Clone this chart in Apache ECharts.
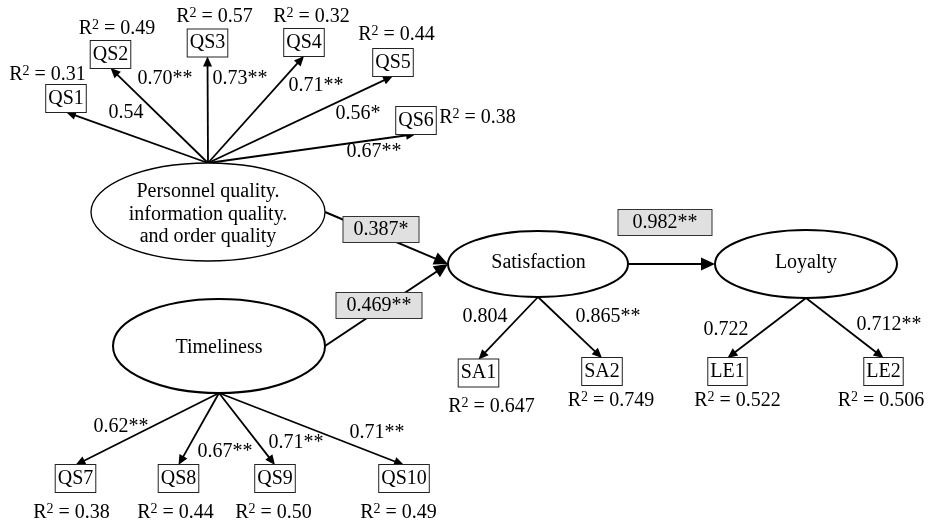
<!DOCTYPE html>
<html>
<head>
<meta charset="utf-8">
<script src="https://cdn.jsdelivr.net/npm/echarts@6/dist/echarts.min.js"></script>
<style>html,body{margin:0;padding:0;background:#fff}#c{width:933px;height:525px}</style>
</head>
<body>
<div id="c"></div>
<script>
// ---------- model content ----------
const latentNames = ['Personnel quality.\ninformation quality.\nand order quality', 'Timeliness', 'Satisfaction', 'Loyalty'];
const indicatorNames = ['QS1','QS2','QS3','QS4','QS5','QS6','QS7','QS8','QS9','QS10','SA1','SA2','LE1','LE2'];
const indicatorR2 = ['0.31','0.49','0.57','0.32','0.44','0.38','0.38','0.44','0.50','0.49','0.647','0.749','0.522','0.506'];
const loadingSource = [0,0,0,0,0,0,1,1,1,1,2,2,3,3];
const loadingValues = ['0.54','0.70**','0.73**','0.71**','0.56*','0.67**','0.62**','0.67**','0.71**','0.71**','0.804','0.865**','0.722','0.712**'];
const pathFrom = [0,1,2];
const pathTo = [2,2,3];
const pathValues = ['0.387*','0.469**','0.982**'];

// ---------- diagram layout (diagram units) ----------
const latentLayout = [[208,212,117,49],[219,346,106,47],[538,264,90,33],[806,264,91,34]];
const latentTextPos = [[208,214.5],[219,348],[538.5,263],[806,263]];
const indicatorLayout = [[66,98.5],[110.5,54.5],[207.5,43],[304,42.5],[393,62.5],[416,120.5],
  [75.5,478.5],[178.5,478.5],[275,478.5],[404,478.5],[478.5,373],[602,371.5],[727.5,371.5],[883.5,371.5]];
const r2Layout = [[47.5,75],[117,29],[214.5,17],[311.5,17],[396.5,35],[477.5,118],
  [71.5,513],[175.5,513],[273.5,513],[398.5,513],[491.5,407],[611,401],[737.5,401],[881,401]];
const loadingLabelLayout = [[126,113],[165,79],[240,79],[316,86],[358,114],[374,152],
  [121,427],[225,452],[296,443],[377,433],[485,317],[608,317],[726,330],[889,325]];
const pathLabelLayout = [[381,229.5],[379,305.5],[665,222.5]];

const FONT = "'Liberation Serif','Times New Roman',Times,serif";
const BOX_HALF_H = 13.5;

function arrow(p0, p1, len, hw, lw) {
  const dx = p1[0] - p0[0], dy = p1[1] - p0[1];
  const L = Math.hypot(dx, dy), ux = dx / L, uy = dy / L;
  const bx = p1[0] - ux * len, by = p1[1] - uy * len;
  return {
    type: 'group', children: [
      { type: 'line', shape: { x1: p0[0], y1: p0[1], x2: bx + ux, y2: by + uy }, style: { stroke: '#000', lineWidth: lw } },
      { type: 'polygon', shape: { points: [[p1[0], p1[1]], [bx - uy * hw, by + ux * hw], [bx + uy * hw, by - ux * hw]] }, style: { fill: '#000' } }
    ]
  };
}

const chart = echarts.init(document.getElementById('c'));

const series = [];

// loading edges
series.push({
  type: 'custom', coordinateSystem: 'cartesian2d', silent: true, z: 1,
  data: loadingSource.map((s, i) => [indicatorLayout[i][0], indicatorLayout[i][1]]),
  renderItem: function (params, api) {
    const i = params.dataIndex;
    const L = latentLayout[loadingSource[i]];
    const ind = indicatorLayout[i];
    let src, tgt;
    if (ind[1] < L[1]) { src = [L[0], L[1] - L[3]]; tgt = [ind[0], ind[1] + BOX_HALF_H]; }
    else { src = [L[0], L[1] + L[3]]; tgt = [ind[0], ind[1] - BOX_HALF_H]; }
    return arrow(api.coord(src), api.coord(tgt), 10, 4.5, 1.8);
  }
});

// structural paths
series.push({
  type: 'custom', coordinateSystem: 'cartesian2d', silent: true, z: 2,
  data: pathFrom.map((f, i) => [latentLayout[f][0], latentLayout[f][1]]),
  renderItem: function (params, api) {
    const i = params.dataIndex;
    const a = latentLayout[pathFrom[i]], b = latentLayout[pathTo[i]];
    return arrow(api.coord([a[0] + a[2], a[1]]), api.coord([b[0] - b[2], b[1]]), 14, 6.5, 2);
  }
});

// latent ellipses
series.push({
  type: 'custom', coordinateSystem: 'cartesian2d', silent: true, z: 3,
  data: latentLayout.map(l => [l[0], l[1]]),
  renderItem: function (params, api) {
    const i = params.dataIndex;
    const l = latentLayout[i];
    const c = api.coord([l[0], l[1]]);
    const s = api.size([l[2], l[3]]);
    const t = api.coord(latentTextPos[i]);
    return {
      type: 'group', children: [
        { type: 'ellipse', shape: { cx: c[0], cy: c[1], rx: s[0], ry: s[1] }, style: { fill: '#fff', stroke: '#000', lineWidth: i === 0 ? 1.3 : 2 } },
        { type: 'text', x: t[0], y: t[1], style: { text: latentNames[i], fontFamily: FONT, fontSize: 20, lineHeight: 22.5, fill: '#000', align: 'center', verticalAlign: 'middle' } }
      ]
    };
  }
});

// indicator boxes
series.push({
  type: 'custom', coordinateSystem: 'cartesian2d', silent: true, z: 4,
  data: indicatorLayout.map(p => [p[0], p[1]]),
  renderItem: function (params, api) {
    const i = params.dataIndex;
    const c = api.coord(indicatorLayout[i]);
    return {
      type: 'text', x: c[0], y: c[1],
      style: { text: indicatorNames[i], fontFamily: FONT, fontSize: 20, lineHeight: 23, fill: '#000', align: 'center', verticalAlign: 'middle',
        backgroundColor: '#fff', borderColor: '#222', borderWidth: 1, padding: [2, 2, 2, 2] }
    };
  }
});

// R2 labels
series.push({
  type: 'custom', coordinateSystem: 'cartesian2d', silent: true, z: 4,
  data: r2Layout.map(p => [p[0], p[1]]),
  renderItem: function (params, api) {
    const i = params.dataIndex;
    const c = api.coord(r2Layout[i]);
    return {
      type: 'text', x: c[0], y: c[1],
      style: { text: '{a|R}{b|2}{a| = ' + indicatorR2[i] + '}', align: 'center', verticalAlign: 'middle',
        rich: {
          a: { fontFamily: FONT, fontSize: 20, lineHeight: 22, fill: '#000' },
          b: { fontFamily: FONT, fontSize: 14, lineHeight: 14, fill: '#000', verticalAlign: 'top' }
        } }
    };
  }
});

// loading labels
series.push({
  type: 'custom', coordinateSystem: 'cartesian2d', silent: true, z: 4,
  data: loadingLabelLayout.map(p => [p[0], p[1]]),
  renderItem: function (params, api) {
    const i = params.dataIndex;
    const c = api.coord(loadingLabelLayout[i]);
    return { type: 'text', x: c[0], y: c[1],
      style: { text: loadingValues[i], fontFamily: FONT, fontSize: 20, fill: '#000', align: 'center', verticalAlign: 'middle' } };
  }
});

// path coefficient labels
series.push({
  type: 'custom', coordinateSystem: 'cartesian2d', silent: true, z: 5,
  data: pathLabelLayout.map(p => [p[0], p[1]]),
  renderItem: function (params, api) {
    const i = params.dataIndex;
    const c = api.coord(pathLabelLayout[i]);
    return { type: 'text', x: c[0], y: c[1],
      style: { text: pathValues[i], fontFamily: FONT, fontSize: 20, lineHeight: 21, fill: '#000', align: 'center', verticalAlign: 'middle',
        backgroundColor: '#e0e0e0', borderColor: '#333', borderWidth: 1, padding: [2, i === 2 ? 14 : 10, 2, i === 2 ? 14 : 10] } };
  }
});

chart.setOption({
  animation: false,
  backgroundColor: '#fff',
  grid: { left: 0, right: 0, top: 0, bottom: 0 },
  xAxis: { type: 'value', min: 0, max: 933, show: false },
  yAxis: { type: 'value', min: 0, max: 525, inverse: true, show: false },
  series: series
});
</script>
</body>
</html>
